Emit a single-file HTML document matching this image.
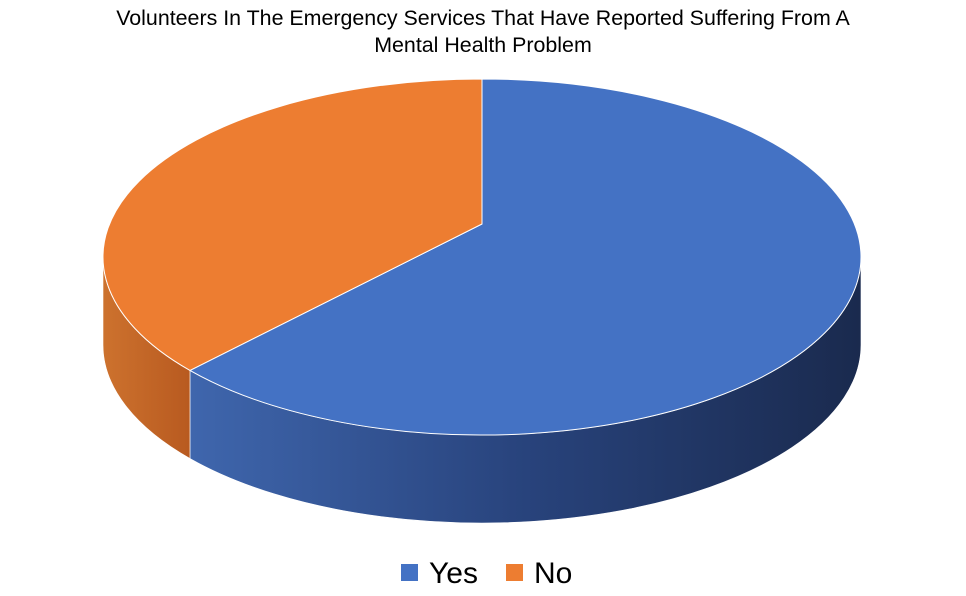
<!DOCTYPE html>
<html><head><meta charset="utf-8"><style>
body{margin:0;background:#fff;}
svg{display:block;font-family:"Liberation Sans",sans-serif;}
</style></head><body>
<svg id="chart" width="966" height="596" viewBox="0 0 966 596">
<defs>
<linearGradient id="gBlue" x1="0" y1="0" x2="1" y2="0" gradientUnits="objectBoundingBox">
<stop offset="0" stop-color="#3f66ad"/><stop offset="0.5" stop-color="#28437c"/><stop offset="1" stop-color="#1a2a4e"/>
</linearGradient>
<linearGradient id="gOrange" x1="0" y1="0" x2="1" y2="0">
<stop offset="0" stop-color="#cd722e"/><stop offset="1" stop-color="#b85a20"/>
</linearGradient>
</defs>
<text x="483" y="25" text-anchor="middle" font-size="21.4" fill="#000">Volunteers In The Emergency Services That Have Reported Suffering From A</text>
<text x="483" y="52" text-anchor="middle" font-size="21.4" fill="#000">Mental Health Problem</text>
<g id="sides"></g>
<g id="tops"></g>
<g>
<rect x="401" y="564" width="17" height="17" fill="#4472c4"/>
<text x="429" y="583" font-size="30" fill="#000">Yes</text>
<rect x="506" y="564" width="17" height="17" fill="#ed7d31"/>
<text x="534" y="583" font-size="30" fill="#000">No</text>
</g>
</svg>
<script>
const categories = ["Yes", "No"];
const values = [64, 36];
const colors = ["#4472c4", "#ed7d31"];
const sideFills = ["url(#gBlue)", "url(#gOrange)"];
const cx = 482, cy = 257, rx = 379, ry = 178, depth = 88;
const apexY = 224;
const NS = "http://www.w3.org/2000/svg";
const total = values.reduce((a, b) => a + b, 0);
function pt(deg, dy) { const r = deg * Math.PI / 180; return [cx + rx * Math.cos(r), cy + ry * Math.sin(r) + (dy || 0)]; }
const sides = document.getElementById('sides'), tops = document.getElementById('tops');
let start = -90;
values.forEach((v, i) => {
  const sweep = v / total * 360, end = start + sweep;
  for (const off of [0, 360, -360]) {
    const a = Math.max(start, 0 + off), b = Math.min(end, 180 + off);
    if (b > a) {
      const p1 = pt(a), p2 = pt(b), p3 = pt(b, depth), p4 = pt(a, depth);
      const large = (b - a) > 180 ? 1 : 0;
      const d = `M${p1} A${rx},${ry} 0 ${large} 1 ${p2} L${p3} A${rx},${ry} 0 ${large} 0 ${p4} Z`;
      const s = document.createElementNS(NS, 'path');
      s.setAttribute('d', d); s.setAttribute('fill', sideFills[i]);
      s.setAttribute('stroke', '#fff'); s.setAttribute('stroke-width', '0.6');
      
      
      sides.appendChild(s);
    }
  }
  const p1 = pt(start), p2 = pt(end), large = sweep > 180 ? 1 : 0;
  const t = document.createElementNS(NS, 'path');
  t.setAttribute('d', `M${cx},${apexY} L${p1} A${rx},${ry} 0 ${large} 1 ${p2} Z`);
  t.setAttribute('fill', colors[i]); t.setAttribute('stroke', '#fff'); t.setAttribute('stroke-width', '1');
  
  
  tops.appendChild(t);
  start = end;
});
</script>
</body></html>
